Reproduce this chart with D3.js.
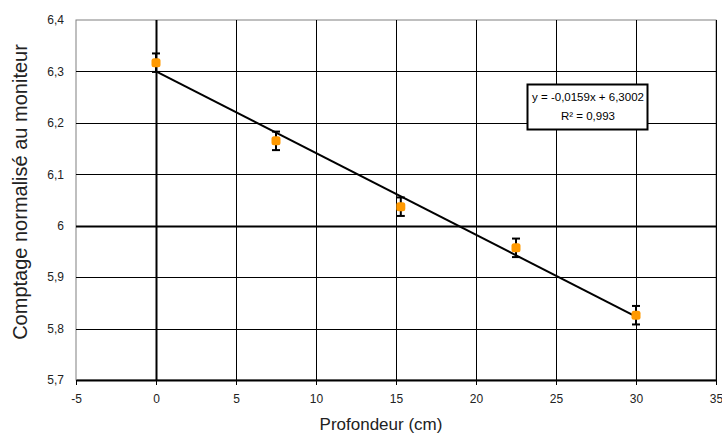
<!DOCTYPE html>
<html><head><meta charset="utf-8">
<script src="https://cdn.jsdelivr.net/npm/d3@7"></script>
<style>body{margin:0;background:#fff}svg{display:block}text{font-family:"Liberation Sans",Arial,sans-serif}</style>
</head><body><svg id="c" width="722" height="436"></svg>
<script>
const depth = [0, 7.5, 15.3, 22.5, 30];
const counts = [6.317, 6.165, 6.037, 5.957, 5.826];
const errors = [0.018, 0.018, 0.018, 0.018, 0.018];
const xTicks = [-5, 0, 5, 10, 15, 20, 25, 30, 35];
const yTicks = [5.7, 5.8, 5.9, 6.0, 6.1, 6.2, 6.3, 6.4];
const slope = -0.0159, intercept = 6.3002;
const eqLines = ["y = -0,0159x + 6,3002", "R² = 0,993"];

const svg = d3.select("#c");
const x = d3.scaleLinear().domain([-5, 35]).range([76, 716]);
const y = d3.scaleLinear().domain([5.7, 6.4]).range([380, 20]);
const fmt = v => String(+v.toFixed(1)).replace(".", ",");

// plot border
svg.append("rect").attr("x", x(-5)).attr("y", y(6.4)).attr("width", x(35)-x(-5)).attr("height", y(5.7)-y(6.4))
  .attr("fill", "#fff").attr("stroke", "#808080").attr("stroke-width", 1);

// gridlines
svg.append("g").selectAll("line").data(yTicks.filter(v => v > 5.7 && v < 6.4)).join("line")
  .attr("x1", x(-5)).attr("x2", x(35)).attr("y1", d => Math.round(y(d)) + 0.5).attr("y2", d => Math.round(y(d)) + 0.5)
  .attr("stroke", "#000").attr("stroke-width", d => Math.abs(d - 6) < 1e-9 ? 2 : 1);
svg.append("g").selectAll("line").data(xTicks.filter(v => v > -5)).join("line")
  .attr("x1", d => Math.round(x(d)) + 0.5).attr("x2", d => Math.round(x(d)) + 0.5).attr("y1", y(6.4)).attr("y2", y(5.7))
  .attr("stroke", "#000").attr("stroke-width", d => d === 0 ? 2 : 1);

// bottom axis
const xa = svg.append("g").attr("transform", `translate(0,${y(5.7)})`)
  .call(d3.axisBottom(x).tickValues(xTicks).tickSize(5).tickSizeOuter(0).tickPadding(9).tickFormat(d => String(d)));
xa.select(".domain").attr("stroke", "#000").attr("stroke-width", 2);
xa.selectAll(".tick line").attr("stroke", "#000");
xa.selectAll("text").attr("font-size", 12).attr("fill", "#222").style("font-family", "Liberation Sans, Arial");

// left axis labels
const ya = svg.append("g").attr("transform", `translate(${x(-5)},0)`)
  .call(d3.axisLeft(y).tickValues(yTicks).tickSize(0).tickPadding(12).tickFormat(fmt));
ya.select(".domain").remove();
ya.selectAll("text").attr("font-size", 12).attr("fill", "#222").style("font-family", "Liberation Sans, Arial");

// trendline
svg.append("line").attr("x1", x(0)).attr("y1", y(intercept)).attr("x2", x(30)).attr("y2", y(intercept + slope*30))
  .attr("stroke", "#000").attr("stroke-width", 2);

// error bars
const eb = svg.append("g").selectAll("g").data(depth.map((d, i) => ({x: d, y: counts[i], e: errors[i]}))).join("g");
eb.append("line").attr("x1", d => x(d.x)).attr("x2", d => x(d.x)).attr("y1", d => y(d.y + d.e)).attr("y2", d => y(d.y - d.e))
  .attr("stroke", "#000").attr("stroke-width", 2);
eb.append("line").attr("x1", d => x(d.x) - 4).attr("x2", d => x(d.x) + 4).attr("y1", d => y(d.y + d.e)).attr("y2", d => y(d.y + d.e))
  .attr("stroke", "#000").attr("stroke-width", 2);
eb.append("line").attr("x1", d => x(d.x) - 4).attr("x2", d => x(d.x) + 4).attr("y1", d => y(d.y - d.e)).attr("y2", d => y(d.y - d.e))
  .attr("stroke", "#000").attr("stroke-width", 2);

// markers
svg.append("g").selectAll("rect").data(depth.map((d, i) => ({x: d, y: counts[i]}))).join("rect")
  .attr("x", d => x(d.x) - 4.5).attr("y", d => y(d.y) - 4.5).attr("width", 9).attr("height", 9).attr("rx", 2.5)
  .attr("fill", "#ff9900");

// equation box
svg.append("rect").attr("x", 527.5).attr("y", 84.5).attr("width", 120).attr("height", 45)
  .attr("fill", "#fff").attr("stroke", "#000").attr("stroke-width", 2);
svg.append("g").selectAll("text").data(eqLines).join("text")
  .attr("x", 588).attr("y", (d, i) => 101 + i * 19).attr("text-anchor", "middle").attr("font-size", 11.5).attr("fill", "#000")
  .text(d => d);

// axis titles
svg.append("text").attr("x", 381).attr("y", 430).attr("text-anchor", "middle").attr("font-size", 17).attr("fill", "#222")
  .text("Profondeur (cm)");
svg.append("text").attr("transform", `translate(27,192) rotate(-90)`).attr("text-anchor", "middle")
  .attr("font-size", 20).attr("fill", "#222").text("Comptage normalisé au moniteur");
</script></body></html>
